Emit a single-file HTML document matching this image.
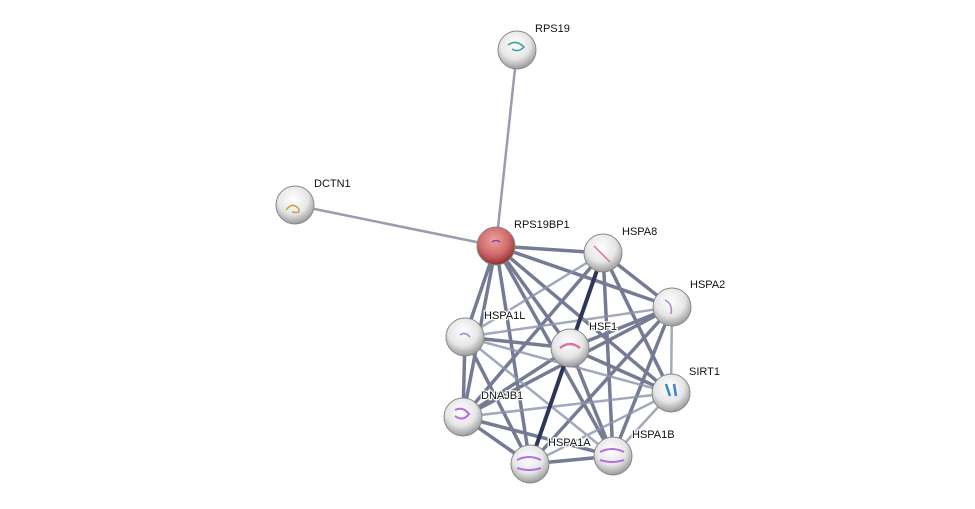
<!DOCTYPE html>
<html><head><style>
html,body{margin:0;padding:0;background:#fff;}
svg{display:block;}
text{font-family:"Liberation Sans",sans-serif;font-size:11px;fill:#111;stroke:#fff;stroke-width:2.5px;paint-order:stroke;}
</style></head><body>
<svg width="975" height="509" viewBox="0 0 975 509">
<defs>
<radialGradient id="g" cx="45%" cy="35%" r="65%">
<stop offset="0" stop-color="#ffffff"/><stop offset="0.6" stop-color="#e6e6e6"/><stop offset="1" stop-color="#9a9a9a"/>
</radialGradient>
<radialGradient id="r" cx="45%" cy="35%" r="65%">
<stop offset="0" stop-color="#f0a0a0"/><stop offset="0.6" stop-color="#d06a6a"/><stop offset="1" stop-color="#8e2e2e"/>
</radialGradient>
</defs>
<g stroke-linecap="round">
<line x1="517" y1="50" x2="496" y2="246" stroke="#9a9cb0" stroke-width="2.5"/>
<line x1="295" y1="205" x2="496" y2="246" stroke="#9a9cb0" stroke-width="2.5"/>
<g stroke="#5c6480" stroke-width="3.5" opacity="0.85">
<line x1="496" y1="246" x2="603" y2="253"/>
<line x1="496" y1="246" x2="672" y2="307"/>
<line x1="496" y1="246" x2="465" y2="337"/>
<line x1="496" y1="246" x2="570" y2="348"/>
<line x1="496" y1="246" x2="671" y2="393"/>
<line x1="496" y1="246" x2="463" y2="417"/>
<line x1="496" y1="246" x2="530" y2="464"/>
<line x1="496" y1="246" x2="613" y2="456"/>
<line x1="603" y1="253" x2="672" y2="307"/>
<line x1="603" y1="253" x2="463" y2="417"/>
<line x1="603" y1="253" x2="671" y2="393"/>
<line x1="603" y1="253" x2="613" y2="456"/>
<line x1="672" y1="307" x2="570" y2="348"/>
<line x1="672" y1="307" x2="530" y2="464"/>
<line x1="672" y1="307" x2="613" y2="456"/>
<line x1="465" y1="337" x2="570" y2="348"/>
<line x1="465" y1="337" x2="463" y2="417"/>
<line x1="465" y1="337" x2="530" y2="464"/>
<line x1="570" y1="348" x2="463" y2="417"/>
<line x1="570" y1="348" x2="613" y2="456"/>
<line x1="570" y1="348" x2="671" y2="393"/>
<line x1="463" y1="417" x2="530" y2="464"/>
<line x1="463" y1="417" x2="613" y2="456"/>
<line x1="530" y1="464" x2="613" y2="456"/>
<line x1="672" y1="307" x2="463" y2="417"/>
</g>
<g stroke="#8c94aa" stroke-width="2.5" opacity="0.8">
<line x1="603" y1="253" x2="465" y2="337"/>
<line x1="672" y1="307" x2="465" y2="337"/>
<line x1="672" y1="307" x2="671" y2="393"/>
<line x1="465" y1="337" x2="671" y2="393"/>
<line x1="465" y1="337" x2="613" y2="456"/>
<line x1="463" y1="417" x2="671" y2="393"/>
<line x1="671" y1="393" x2="530" y2="464"/>
<line x1="671" y1="393" x2="613" y2="456"/>
<line x1="570" y1="348" x2="530" y2="464"/>
</g>
<line x1="603" y1="253" x2="570" y2="348" stroke="#2e3658" stroke-width="4"/>
<line x1="570" y1="348" x2="530" y2="464" stroke="#2e3658" stroke-width="4"/>
</g>
<g stroke="#888" stroke-width="1">
<circle cx="517" cy="50" r="19" fill="url(#g)"/>
<circle cx="295" cy="205" r="19" fill="url(#g)"/>
<circle cx="496" cy="246" r="19" fill="url(#r)"/>
<circle cx="603" cy="253" r="19" fill="url(#g)"/>
<circle cx="672" cy="307" r="19" fill="url(#g)"/>
<circle cx="465" cy="337" r="19" fill="url(#g)"/>
<circle cx="570" cy="348" r="19" fill="url(#g)"/>
<circle cx="671" cy="393" r="19" fill="url(#g)"/>
<circle cx="463" cy="417" r="19" fill="url(#g)"/>
<circle cx="530" cy="464" r="19" fill="url(#g)"/>
<circle cx="613" cy="456" r="19" fill="url(#g)"/>
</g>
<g fill="none" stroke-width="1.5">
<path d="M508 45 q8 -6 16 2 q-6 6 -12 2" stroke="#3aa0a0"/>
<path d="M286 210 q6 -8 12 -2 q4 6 -6 4" stroke="#c9a040"/>
<path d="M492 242 q4 -3 8 0" stroke="#7050a0"/>
<path d="M594 246 l16 16" stroke="#e070a0"/>
<path d="M665 300 q8 4 6 14" stroke="#b080d0"/>
<path d="M460 335 q5 -4 10 2" stroke="#b080d0"/>
<path d="M560 348 q10 -8 20 0" stroke="#e070a0" stroke-width="2.5"/>
<path d="M666 384 l4 12 M674 384 l2 12" stroke="#4080d0" stroke-width="2.5"/>
<path d="M455 410 q8 -4 14 4 q-6 8 -14 2" stroke="#b070e0" stroke-width="2"/>
<path d="M517 460 q12 -6 24 0 M517 468 q12 4 24 0" stroke="#b070e0" stroke-width="2"/>
<path d="M600 452 q12 -6 24 0 M600 460 q12 4 24 0" stroke="#b070e0" stroke-width="2"/>
</g>
<text x="535" y="32">RPS19</text>
<text x="314" y="187">DCTN1</text>
<text x="514" y="228">RPS19BP1</text>
<text x="622" y="235">HSPA8</text>
<text x="690" y="288">HSPA2</text>
<text x="484" y="319">HSPA1L</text>
<text x="589" y="330">HSF1</text>
<text x="689" y="375">SIRT1</text>
<text x="481" y="399">DNAJB1</text>
<text x="548" y="446">HSPA1A</text>
<text x="632" y="438">HSPA1B</text>
</svg>
</body></html>
